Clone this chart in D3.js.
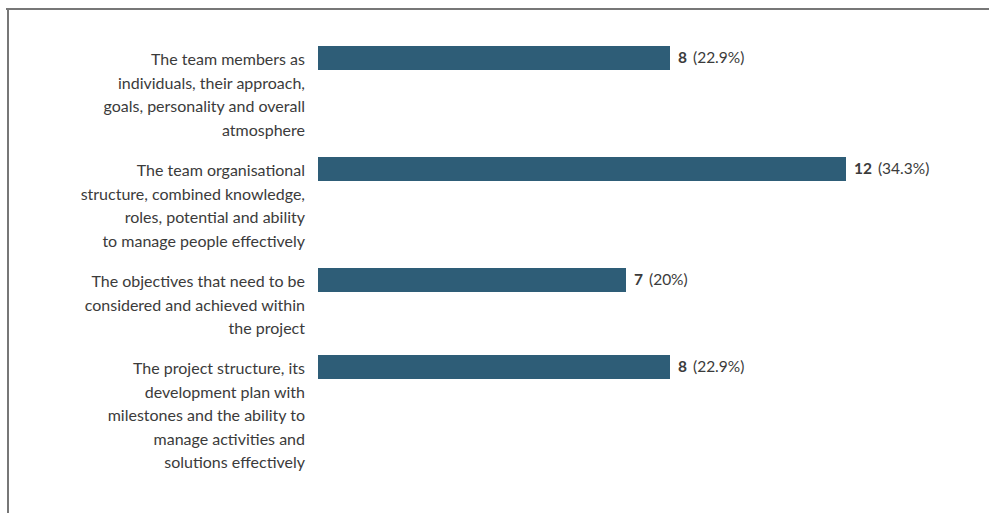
<!DOCTYPE html>
<html>
<head>
<meta charset="utf-8">
<script src="https://cdn.jsdelivr.net/npm/d3@7"></script>
<style>
  body { margin: 0; background: #fff; }
  text { font-family: Lato, "Open Sans", sans-serif; }
</style>
</head>
<body>
<div id="chart"></div>
<script>
// data
const labels = [
  ["The team members as", "individuals, their approach,", "goals, personality and overall", "atmosphere"],
  ["The team organisational", "structure, combined knowledge,", "roles, potential and ability", "to manage people effectively"],
  ["The objectives that need to be", "considered and achieved within", "the project"],
  ["The project structure, its", "development plan with", "milestones and the ability to", "manage activities and", "solutions effectively"]
];
const counts = [8, 12, 7, 8];
const percents = ["22.9%", "34.3%", "20%", "22.9%"];

const width = 990, height = 513;
const lineH = 24, gapLines = 0.625;

const svg = d3.select("#chart").append("svg")
  .attr("width", width)
  .attr("height", height);

// frame lines top and left
svg.append("line").attr("x1", 6).attr("x2", 989).attr("y1", 9).attr("y2", 9)
  .attr("stroke", "#777").attr("stroke-width", 2);
svg.append("line").attr("x1", 8).attr("x2", 8).attr("y1", 8).attr("y2", height)
  .attr("stroke", "#777").attr("stroke-width", 2);

// group offsets in "line units"
let starts = [], acc = 0;
labels.forEach((l) => { starts.push(acc); acc += l.length + gapLines; });

const x = d3.scaleLinear().domain([0, 12]).range([318, 846]);
const y = d3.scaleLinear().domain([0, acc]).range([46, 46 + acc * lineH]);

const rows = labels.map((l, i) => ({ lines: l, count: counts[i], pct: percents[i], start: starts[i] }));

const g = svg.append("g");

g.selectAll("rect")
  .data(rows)
  .join("rect")
  .attr("x", x(0))
  .attr("y", (d) => y(d.start))
  .attr("width", (d) => x(d.count) - x(0))
  .attr("height", 24)
  .attr("fill", "#2e5d77");

const lab = g.selectAll(".lab")
  .data(rows)
  .join("text")
  .attr("class", "lab")
  .attr("text-anchor", "end")
  .attr("font-size", 16)
  .attr("fill", "#3b3b3b");
lab.selectAll("tspan")
  .data((d) => d.lines.map((t, j) => ({ t, yy: y(d.start) + 15 + j * 23.6 })))
  .join("tspan")
  .attr("x", 305)
  .attr("y", (d) => d.yy)
  .attr("dominant-baseline", "middle")
  .text((d) => d.t);

const val = g.selectAll(".val")
  .data(rows)
  .join("text")
  .attr("class", "val")
  .attr("x", (d) => x(d.count) + 8)
  .attr("y", (d) => y(d.start) + 13)
  .attr("dominant-baseline", "middle")
  .attr("font-size", 15.5)
  .attr("fill", "#3b3b3b");
val.append("tspan").attr("font-weight", "bold").text((d) => d.count);
val.append("tspan").attr("dx", 6).text((d) => "(" + d.pct + ")");
</script>
</body>
</html>
